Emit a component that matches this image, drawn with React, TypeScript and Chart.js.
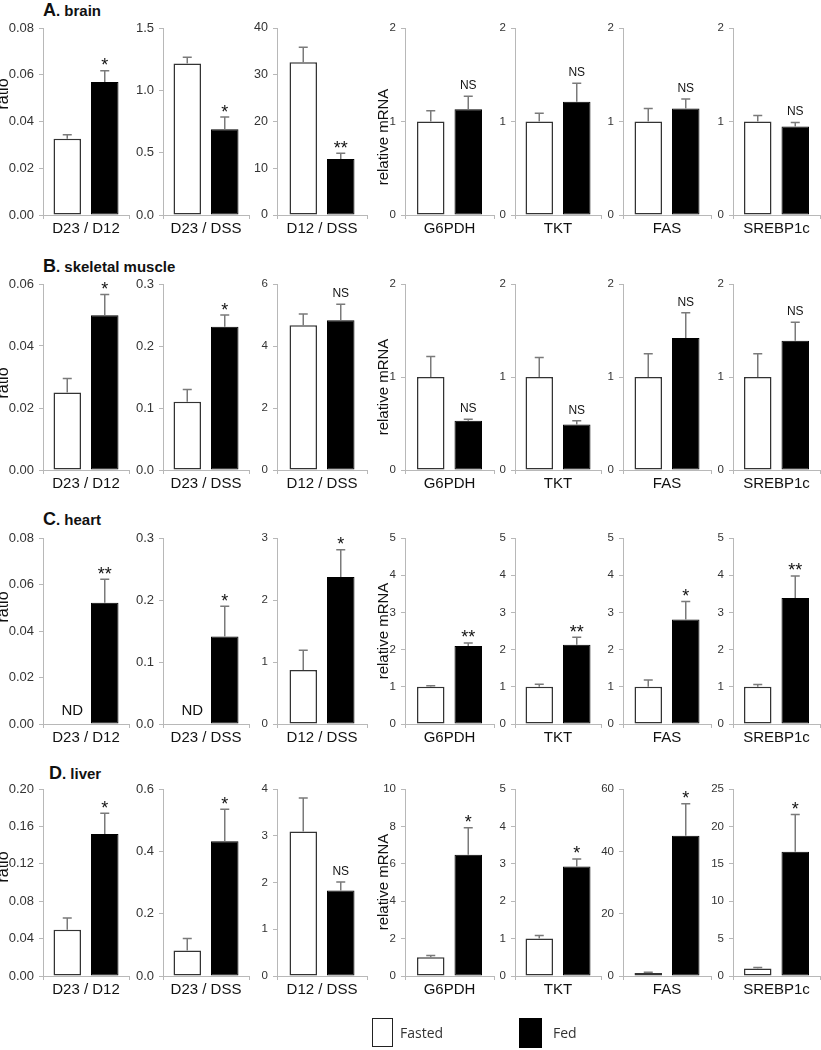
import React, { useEffect, useRef } from 'react';
import { Chart, registerables } from 'chart.js';

Chart.register(...registerables);

// ---------- data ----------
const ratioLabels = ['D23 / D12', 'D23 / DSS', 'D12 / DSS'];
const geneLabels = ['G6PDH', 'TKT', 'FAS', 'SREBP1c'];
const panelLabels = [...ratioLabels, ...geneLabels];
const seriesNames = ['Fasted', 'Fed'];

// A. brain
const brainFasted = [0.0326, 1.215, 32.7, 1.0, 1.0, 1.0, 1.0];
const brainFastedErr = [0.0017, 0.051, 3.2, 0.115, 0.087, 0.14, 0.064];
const brainFed = [0.0569, 0.687, 12.0, 1.13, 1.21, 1.14, 0.946];
const brainFedErr = [0.0048, 0.099, 1.2, 0.14, 0.2, 0.1, 0.044];
const brainSig = ['*', '*', '**', 'NS', 'NS', 'NS', 'NS'];
const brainMax = [0.08, 1.5, 40, 2, 2, 2, 2];
const brainStep = [0.02, 0.5, 10, 1, 1, 1, 1];

// B. skeletal muscle
const muscleFasted = [0.025, 0.11, 4.67, 1.0, 1.0, 1.0, 1.0];
const muscleFastedErr = [0.0045, 0.02, 0.36, 0.22, 0.21, 0.25, 0.25];
const muscleFed = [0.0499, 0.231, 4.83, 0.53, 0.49, 1.42, 1.39];
const muscleFedErr = [0.0067, 0.019, 0.52, 0.015, 0.04, 0.27, 0.2];
const muscleSig = ['*', '*', 'NS', 'NS', 'NS', 'NS', 'NS'];
const muscleMax = [0.06, 0.3, 6, 2, 2, 2, 2];
const muscleStep = [0.02, 0.1, 2, 1, 1, 1, 1];

// C. heart
const heartFasted = [null, null, 0.87, 1.0, 1.0, 1.0, 1.0];
const heartFastedErr = [0, 0, 0.32, 0.03, 0.07, 0.18, 0.06];
const heartFed = [0.0522, 0.141, 2.37, 2.1, 2.13, 2.81, 3.39];
const heartFedErr = [0.0101, 0.049, 0.44, 0.08, 0.2, 0.48, 0.59];
const heartSig = ['**', '*', '*', '**', '**', '*', '**'];
const heartND = [true, true, false, false, false, false, false];
const heartMax = [0.08, 0.3, 3, 5, 5, 5, 5];
const heartStep = [0.02, 0.1, 1, 1, 1, 1, 1];

// D. liver
const liverFasted = [0.0495, 0.082, 3.09, 1.0, 1.0, 1.0, 1.0];
const liverFastedErr = [0.0125, 0.038, 0.72, 0.1, 0.08, 0.2, 0.13];
const liverFed = [0.152, 0.432, 1.83, 6.49, 2.93, 45.0, 16.6];
const liverFedErr = [0.022, 0.103, 0.18, 1.44, 0.2, 10.3, 5.0];
const liverSig = ['*', '*', 'NS', '*', '*', '*', '*'];
const liverMax = [0.2, 0.6, 4, 10, 5, 60, 25];
const liverStep = [0.04, 0.2, 1, 2, 1, 20, 5];

const tickDecimals = [2, 1, 0, 0, 0, 0, 0];
const noND = [false, false, false, false, false, false, false];

const rows = [
  { letter: 'A', name: 'brain', fasted: brainFasted, fastedErr: brainFastedErr, fed: brainFed, fedErr: brainFedErr, sig: brainSig, nd: noND, max: brainMax, step: brainStep },
  { letter: 'B', name: 'skeletal muscle', fasted: muscleFasted, fastedErr: muscleFastedErr, fed: muscleFed, fedErr: muscleFedErr, sig: muscleSig, nd: noND, max: muscleMax, step: muscleStep },
  { letter: 'C', name: 'heart', fasted: heartFasted, fastedErr: heartFastedErr, fed: heartFed, fedErr: heartFedErr, sig: heartSig, nd: heartND, max: heartMax, step: heartStep },
  { letter: 'D', name: 'liver', fasted: liverFasted, fastedErr: liverFastedErr, fed: liverFed, fedErr: liverFedErr, sig: liverSig, nd: noND, max: liverMax, step: liverStep },
];

// ---------- layout ----------
const COL_X = [43, 163, 277, 405, 515, 623, 733];
const PLOT_W = [86, 86, 90, 89, 86, 88, 87];
const ROW_TOP = [28, 284, 538, 789];
const ROW_ZERO = [215, 470, 724, 976];
const TITLE_BASE = [16, 272, 525, 779];
const TITLE_X = [43, 43, 43, 49];
const RATIO_Y = [94, 383, 607, 867];
const MRNA_Y = [137, 387, 631, 882];
const PT = 24;
const XH = 30;
const PR = 4;
const AXIS = '#b8b8b8';
const FONT = '"Liberation Sans", Arial, Helvetica, sans-serif';

Chart.defaults.font.family = FONT;

function tickSize(ri: number, c: number) {
  if (c < 2) return 13;
  if (c === 2 && ri === 0) return 12.5;
  return 11.5;
}

function makeOverlay(opts: any) {
  return {
    id: 'overlay' + opts.key,
    afterDatasetsDraw(chart: any) {
      const ctx = chart.ctx;
      const ys = chart.scales.y;
      const errs = [opts.fastedErr, opts.fedErr];
      ctx.save();
      chart.data.datasets.forEach((ds: any, i: number) => {
        const meta = chart.getDatasetMeta(i);
        meta.data.forEach((bar: any, j: number) => {
          const v = ds.data[j];
          if (v == null) return;
          const top = ys.getPixelForValue(v + errs[i]);
          ctx.strokeStyle = '#7a7a7a';
          ctx.lineWidth = 1.5;
          ctx.beginPath();
          ctx.moveTo(bar.x, bar.y);
          ctx.lineTo(bar.x, top);
          ctx.moveTo(bar.x - 4.5, top);
          ctx.lineTo(bar.x + 4.5, top);
          ctx.stroke();
          if (i === 1 && opts.sig) {
            ctx.fillStyle = '#111';
            ctx.textAlign = 'center';
            ctx.textBaseline = 'alphabetic';
            if (opts.sig === 'NS') {
              ctx.font = '12px ' + FONT;
              ctx.fillText('NS', bar.x, top - 7);
            } else {
              ctx.font = '18px ' + FONT;
              ctx.fillText(opts.sig, bar.x, top + 0.5);
            }
          }
        });
      });
      if (opts.nd) {
        const fedBar = chart.getDatasetMeta(1).data[0];
        const center = (chart.chartArea.left + chart.chartArea.right) / 2;
        const x = 2 * center - fedBar.x + 5;
        ctx.fillStyle = '#111';
        ctx.font = '15px ' + FONT;
        ctx.textAlign = 'center';
        ctx.textBaseline = 'alphabetic';
        ctx.fillText('ND', x, ys.getPixelForValue(0) - 9);
      }
      if (opts.yTitle) {
        ctx.save();
        ctx.translate(opts.yTitle.x, opts.yTitle.y);
        ctx.rotate(-Math.PI / 2);
        ctx.fillStyle = '#111';
        ctx.font = opts.yTitle.size + 'px ' + FONT;
        ctx.textAlign = 'center';
        ctx.textBaseline = 'alphabetic';
        ctx.fillText(opts.yTitle.text, 0, 0);
        ctx.restore();
      }
      ctx.restore();
    },
  };
}

function Panel({ ri, c }: { ri: number; c: number }) {
  const ref = useRef<HTMLCanvasElement>(null);
  const row = rows[ri];
  const YW = c === 0 ? 43 : 40;
  const left = COL_X[c] - YW;
  const top = ROW_TOP[ri] - PT;
  const plotH = ROW_ZERO[ri] - ROW_TOP[ri];
  const width = YW + PLOT_W[c] + PR;
  const height = PT + plotH + XH;

  useEffect(() => {
    const catPct = 75 / PLOT_W[c];
    const barPct = 0.733;
    let yTitle: any = null;
    if (c === 0) yTitle = { text: 'ratio', x: 8 - left, y: RATIO_Y[ri] - top, size: 16 };
    if (c === 3) yTitle = { text: 'relative mRNA', x: 388 - left, y: MRNA_Y[ri] - top, size: 15 };
    const dec = tickDecimals[c];
    const chart = new Chart(ref.current as HTMLCanvasElement, {
      type: 'bar',
      data: {
        labels: [panelLabels[c]],
        datasets: [
          {
            label: seriesNames[0],
            data: [row.fasted[c]],
            backgroundColor: '#ffffff',
            borderColor: '#333333',
            borderWidth: 1.5,
            borderSkipped: false,
            categoryPercentage: catPct,
            barPercentage: barPct,
          },
          {
            label: seriesNames[1],
            data: [row.fed[c]],
            backgroundColor: '#000000',
            borderColor: '#000000',
            borderWidth: 1,
            borderSkipped: false,
            categoryPercentage: catPct,
            barPercentage: barPct,
          },
        ],
      } as any,
      options: {
        responsive: false,
        animation: false,
        devicePixelRatio: 1,
        layout: { padding: { top: PT, right: PR, left: 0, bottom: 0 } },
        plugins: {
          legend: { display: false },
          tooltip: { enabled: false },
          title: { display: false },
        },
        scales: {
          x: {
            type: 'category',
            offset: true,
            grid: { display: true, offset: true, drawOnChartArea: false, drawTicks: true, tickLength: 4, color: AXIS },
            border: { display: true, color: AXIS, width: 1 },
            ticks: { color: '#111', font: { size: 15 }, padding: 1, maxRotation: 0, minRotation: 0, autoSkip: false },
            afterFit: (s: any) => { s.height = XH; },
          },
          y: {
            min: 0,
            max: row.max[c],
            grid: { display: true, drawOnChartArea: false, drawTicks: true, tickLength: 4, color: AXIS },
            border: { display: true, color: AXIS, width: 1 },
            ticks: {
              stepSize: row.step[c],
              color: '#333',
              font: { size: tickSize(ri, c) },
              padding: 5,
              autoSkip: false,
              callback: (v: any) => Number(v).toFixed(dec),
            },
            afterFit: (s: any) => { s.width = YW; },
          },
        },
      } as any,
      plugins: [
        makeOverlay({
          key: ri + '_' + c,
          fastedErr: row.fastedErr[c],
          fedErr: row.fedErr[c],
          sig: row.sig[c],
          nd: row.nd[c],
          yTitle,
        }),
      ],
    });
    return () => chart.destroy();
  }, []);

  return (
    <canvas
      ref={ref}
      width={width}
      height={height}
      style={{ position: 'absolute', left, top, width, height }}
    />
  );
}

export default function App() {
  const panels: any[] = [];
  rows.forEach((_, ri) => {
    for (let c = 0; c < 7; c++) panels.push(<Panel key={ri + '-' + c} ri={ri} c={c} />);
  });
  return (
    <div style={{ position: 'absolute', left: 0, top: 0, width: 821, height: 1050, background: '#fff', overflow: 'hidden' }}>
      {rows.map((r, ri) => (
        <div
          key={'t' + ri}
          style={{
            position: 'absolute',
            left: TITLE_X[ri],
            top: TITLE_BASE[ri] - 14,
            fontFamily: FONT,
            fontWeight: 'bold',
            lineHeight: '17px',
            color: '#111',
            whiteSpace: 'nowrap',
          }}
        >
          <span style={{ fontSize: 18 }}>{r.letter}</span>
          <span style={{ fontSize: 15 }}>. {r.name}</span>
        </div>
      ))}
      {panels}
      <div style={{ position: 'absolute', left: 372, top: 1018, width: 19, height: 27, border: '1.5px solid #222', background: '#fff' }} />
      <div style={{ position: 'absolute', left: 400, top: 1018, height: 30, lineHeight: '30px', fontFamily: '"Open Sans", sans-serif', fontSize: 14, color: '#333' }}>{seriesNames[0]}</div>
      <div style={{ position: 'absolute', left: 519, top: 1018, width: 23, height: 30, background: '#000' }} />
      <div style={{ position: 'absolute', left: 553, top: 1018, height: 30, lineHeight: '30px', fontFamily: '"Open Sans", sans-serif', fontSize: 14, color: '#333' }}>{seriesNames[1]}</div>
    </div>
  );
}
